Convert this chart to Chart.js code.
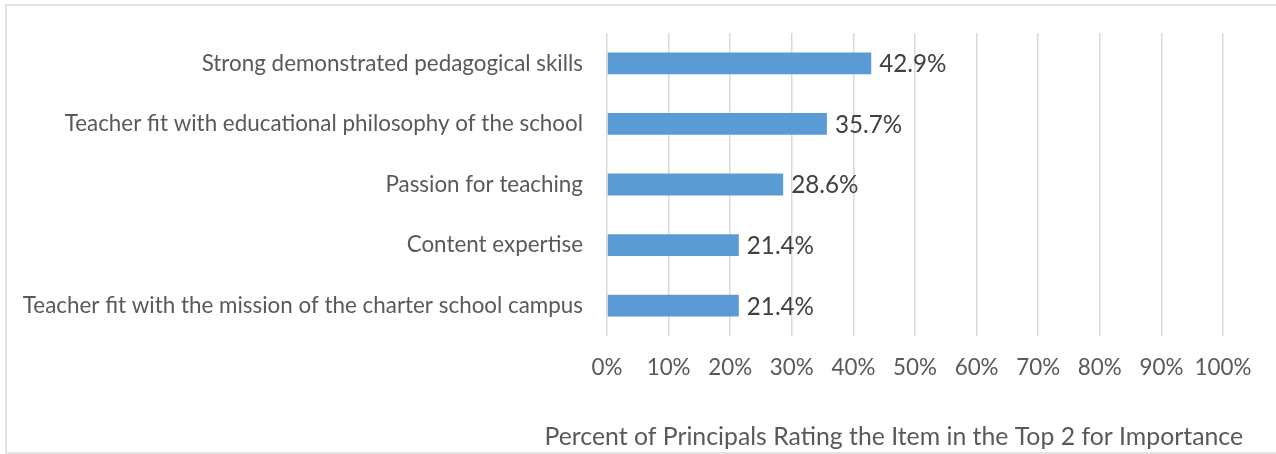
<!DOCTYPE html>
<html>
<head>
<meta charset="utf-8">
<script src="https://cdn.jsdelivr.net/npm/chart.js@4/dist/chart.umd.min.js"></script>
<style>
  html, body { margin: 0; padding: 0; background: #fff; overflow: hidden; }
  #frame { position: absolute; left: 5px; top: 4px; width: 1300px; height: 450px; border: 2px solid #e3e3e3; box-sizing: border-box; }
  #wrap { position: absolute; left: 0; top: 0; width: 1276px; height: 454px; }
</style>
</head>
<body>
<div id="frame"></div>
<div id="wrap"><canvas id="c" width="1276" height="454"></canvas></div>
<script>
const categories = [
  "Strong demonstrated pedagogical skills",
  "Teacher fit with educational philosophy of the school",
  "Passion for teaching",
  "Content expertise",
  "Teacher fit with the mission of the charter school campus"
];
const percentValues = [42.9, 35.7, 28.6, 21.4, 21.4];
const axisTitle = "Percent of Principals Rating the Item in the Top 2 for Importance";

const FONT = "Lato, 'Open Sans', sans-serif";
const TEXT = "#595959";

// size the font so the longest category label matches the reference width
const mc = document.createElement("canvas").getContext("2d");
mc.font = "20px " + FONT;
const w20 = mc.measureText(categories[4]).width;
const fs = Math.round(20 * 561 / w20 * 10) / 10;

const dataLabels = {
  id: "dataLabels",
  afterDatasetsDraw(chart) {
    const ctx = chart.ctx;
    const meta = chart.getDatasetMeta(0);
    ctx.save();
    ctx.font = (fs * 1.08).toFixed(1) + "px " + FONT;
    ctx.fillStyle = "#404040";
    ctx.textAlign = "left";
    ctx.textBaseline = "middle";
    meta.data.forEach((bar, i) => {
      ctx.fillText(percentValues[i].toFixed(1) + "%", bar.x + 8, bar.y + 1);
    });
    ctx.restore();
  }
};

const bottomTitle = {
  id: "bottomTitle",
  afterDraw(chart) {
    const ctx = chart.ctx;
    ctx.save();
    ctx.font = (fs * 1.105).toFixed(1) + "px " + FONT;
    ctx.fillStyle = TEXT;
    ctx.textAlign = "right";
    ctx.textBaseline = "middle";
    ctx.fillText(axisTitle, chart.chartArea.right + 20, 437);
    ctx.restore();
  }
};

new Chart(document.getElementById("c"), {
  type: "bar",
  data: {
    labels: categories,
    datasets: [{
      data: percentValues,
      backgroundColor: "#5B9BD5",
      borderWidth: 0,
      categoryPercentage: 1,
      barPercentage: 0.36
    }]
  },
  plugins: [dataLabels, bottomTitle],
  options: {
    indexAxis: "y",
    responsive: false,
    animation: false,
    devicePixelRatio: 1,
    layout: { padding: { top: 33, right: 53, left: 0, bottom: 0 } },
    plugins: { legend: { display: false }, tooltip: { enabled: false }, title: { display: false } },
    scales: {
      x: {
        min: 0, max: 100,
        ticks: {
          stepSize: 10,
          callback: v => v + "%",
          color: TEXT,
          font: { family: FONT, size: fs },
          padding: 18,
          maxRotation: 0
        },
        grid: { color: "#d9d9d9", lineWidth: 1.5, drawTicks: false },
        border: { display: false },
        afterFit(scale) { scale.height = 118; }
      },
      y: {
        ticks: {
          color: TEXT,
          font: { family: FONT, size: fs },
          padding: 24
        },
        grid: { display: false, drawTicks: false },
        border: { display: false },
        afterFit(scale) { scale.width = 607; scale.paddingTop = 0; scale.paddingBottom = 0; }
      }
    }
  }
});
</script>
</body>
</html>
